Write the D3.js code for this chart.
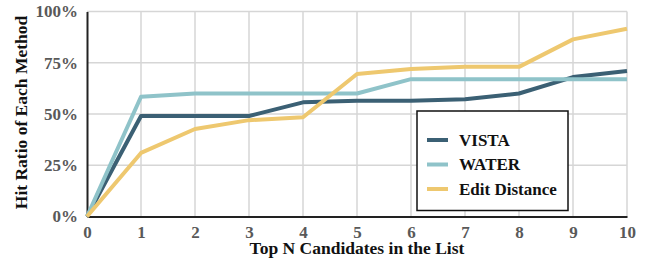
<!DOCTYPE html>
<html>
<head>
<meta charset="utf-8">
<script src="https://cdn.jsdelivr.net/npm/d3@7"></script>
<style>
  body { margin: 0; background: #fff; }
  svg text { font-family: "Liberation Serif", "Times New Roman", serif; font-weight: bold; }
  .grid line { stroke: #d6d6d6; stroke-width: 1.5; }
  .tick text { fill: #595959; font-size: 17px; }
</style>
</head>
<body>
<div id="chart"></div>
<script>
const topN = [0, 1, 2, 3, 4, 5, 6, 7, 8, 9, 10];
const vista = [0, 49, 49, 49, 55.7, 56.5, 56.5, 57.2, 60, 68, 71];
const water = [0, 58.4, 60, 60, 60, 60, 67, 67, 67, 67, 67];
const editDistance = [0, 31, 42.7, 47, 48.4, 69.5, 72, 73, 73, 86.4, 91.6];
const yTicks = [0, 25, 50, 75, 100];

const series = [
  { name: "VISTA", values: vista, color: "#3b6074" },
  { name: "WATER", values: water, color: "#8fc3c9" },
  { name: "Edit Distance", values: editDistance, color: "#eec86f" },
];

const width = 650, height = 262;
const margin = { top: 11.5, right: 23, bottom: 45.5, left: 87 };

const svg = d3.select("#chart").append("svg")
  .attr("width", width)
  .attr("height", height);

const x = d3.scaleLinear().domain([0, 10]).range([margin.left, width - margin.right]);
const y = d3.scaleLinear().domain([0, 100]).range([height - margin.bottom, margin.top]);

// grid
const grid = svg.append("g").attr("class", "grid");
grid.selectAll(".gx")
  .data(topN.filter((d) => d > 0))
  .join("line")
  .attr("x1", (d) => x(d)).attr("x2", (d) => x(d))
  .attr("y1", y(0)).attr("y2", y(100));
grid.selectAll(".gy")
  .data(yTicks.filter((d) => d > 0))
  .join("line")
  .attr("x1", x(0)).attr("x2", x(10))
  .attr("y1", (d) => y(d)).attr("y2", (d) => y(d));

// axes
const gx = svg.append("g")
  .attr("transform", `translate(0,${y(0)})`)
  .call(d3.axisBottom(x).tickValues(topN).tickFormat(d3.format("d")).tickSize(0).tickPadding(9.5))
  .attr("font-family", null);
gx.select(".domain").attr("stroke", "#222").attr("stroke-width", 2);

const gy = svg.append("g")
  .attr("transform", `translate(${x(0)},0)`)
  .call(d3.axisLeft(y).tickValues(yTicks).tickFormat((d) => d + "%").tickSize(0).tickPadding(9))
  .attr("font-family", null);
gy.select(".domain").attr("stroke", "#222").attr("stroke-width", 2);

// lines
const line = d3.line()
  .x((d, i) => x(topN[i]))
  .y((d) => y(d));

svg.append("g")
  .selectAll("path")
  .data(series)
  .join("path")
  .attr("fill", "none")
  .attr("stroke", (d) => d.color)
  .attr("stroke-width", 4)
  .attr("stroke-linejoin", "round")
  .attr("d", (d) => line(d.values));

// axis titles
svg.append("text")
  .attr("x", (x(0) + x(10)) / 2)
  .attr("y", 254)
  .attr("text-anchor", "middle")
  .attr("font-size", 17.5)
  .attr("fill", "#111")
  .text("Top N Candidates in the List");

svg.append("text")
  .attr("transform", `translate(27,112.5) rotate(-90)`)
  .attr("text-anchor", "middle")
  .attr("font-size", 17.5)
  .attr("fill", "#111")
  .text("Hit Ratio of Each Method");

// legend
const legend = svg.append("g").attr("transform", "translate(417,111)");
legend.append("rect")
  .attr("width", 151).attr("height", 99.5)
  .attr("fill", "#fff")
  .attr("stroke", "#111")
  .attr("stroke-width", 1.5);

const item = legend.selectAll(".item")
  .data(series)
  .join("g")
  .attr("transform", (d, i) => `translate(0,${29 + i * 24.5})`);
item.append("line")
  .attr("x1", 10).attr("x2", 31)
  .attr("stroke", (d) => d.color)
  .attr("stroke-width", 4);
item.append("text")
  .attr("x", 42)
  .attr("dy", "0.35em")
  .attr("font-size", 17)
  .attr("fill", "#111")
  .text((d) => d.name);
</script>
</body>
</html>
